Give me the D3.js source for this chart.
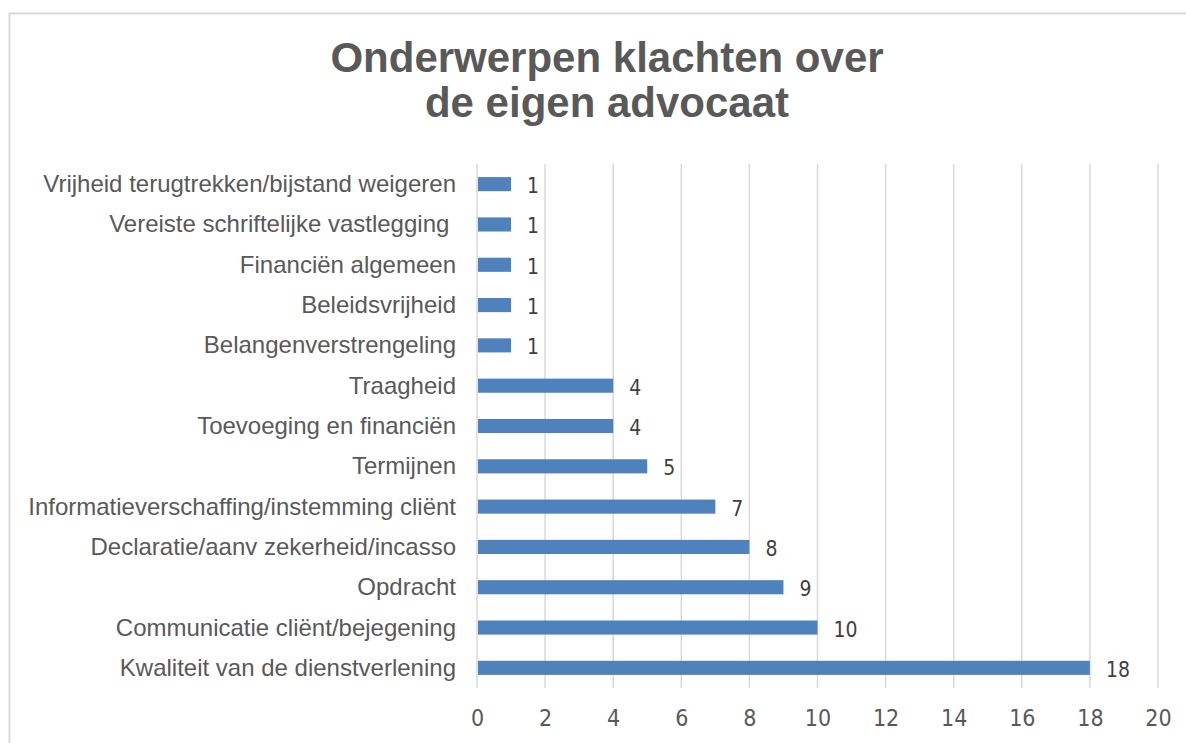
<!DOCTYPE html>
<html><head><meta charset="utf-8">
<script src="https://cdn.jsdelivr.net/npm/d3@7"></script>
<style>body{margin:0;background:#fff}svg{display:block}</style>
</head><body>
<script>
const categories = [
  "Vrijheid terugtrekken/bijstand weigeren",
  "Vereiste schriftelijke vastlegging\u00a0",
  "Financiën algemeen",
  "Beleidsvrijheid",
  "Belangenverstrengeling",
  "Traagheid",
  "Toevoeging en financiën",
  "Termijnen",
  "Informatieverschaffing/instemming cliënt",
  "Declaratie/aanv zekerheid/incasso",
  "Opdracht",
  "Communicatie cliënt/bejegening",
  "Kwaliteit van de dienstverlening"
];
const values = [1,1,1,1,1,4,4,5,7,8,9,10,18];
const xTicks = [0,2,4,6,8,10,12,14,16,18,20];
const titleLines = ["Onderwerpen klachten over","de eigen advocaat"];

(function(){
const W=1186,H=743;
const svg=d3.select("body").append("svg").attr("width",W).attr("height",H);
svg.append("rect").attr("x",9.5).attr("y",13.5).attr("width",1200).attr("height",800)
  .attr("fill","#fff").attr("stroke","#D9D9D9").attr("stroke-width",2);

const pl=477,pr=1158,pt=164,pb=688;
const x=d3.scaleLinear().domain([0,20]).range([pl,pr]);
const y=d3.scaleBand().domain(categories).range([pt,pb]).paddingInner(0.65).paddingOuter(0.325);
const narrow="'Liberation Sans Narrow','Arial Narrow','DejaVu Sans Condensed',sans-serif";

// grid
svg.append("g").selectAll("line").data(xTicks).join("line")
  .attr("x1",d=>x(d)).attr("x2",d=>x(d)).attr("y1",pt).attr("y2",pb)
  .attr("stroke","#D9D9D9").attr("stroke-width",1.5);

// bars
svg.append("g").selectAll("rect").data(values).join("rect")
  .attr("x",x(0)+1).attr("y",(d,i)=>y(categories[i]))
  .attr("width",d=>x(d)-x(0)-1).attr("height",y.bandwidth())
  .attr("fill","#4F81BD");

// data labels
svg.append("g").selectAll("text").data(values).join("text")
  .attr("x",d=>x(d)+16).attr("y",(d,i)=>y(categories[i])+y.bandwidth()/2+9)
  .attr("font-family",narrow).attr("font-size",21).attr("fill","#404040")
  .text(d=>d);

// category labels
svg.append("g").selectAll("text").data(categories).join("text")
  .attr("x",pl-21).attr("y",d=>y(d)+y.bandwidth()/2+8)
  .attr("text-anchor","end").attr("font-family","'Liberation Sans',Arial,sans-serif")
  .attr("font-size",24).attr("fill","#595959").attr("xml:space","preserve").text(d=>d);

// x axis
const ax=svg.append("g").attr("transform",`translate(0,${pb})`)
  .call(d3.axisBottom(x).tickValues(xTicks).tickSize(0).tickPadding(22));
ax.select(".domain").remove();
ax.selectAll("text").attr("font-family",narrow).attr("font-size",23).attr("fill","#595959");

// title
svg.append("g").selectAll("text").data(titleLines).join("text")
  .attr("x",607).attr("y",(d,i)=>72+i*45).attr("text-anchor","middle")
  .attr("font-family","'Liberation Sans',Arial,sans-serif").attr("font-weight","bold")
  .attr("font-size",42).attr("fill","#595959").text(d=>d);
})();
</script>
</body></html>
